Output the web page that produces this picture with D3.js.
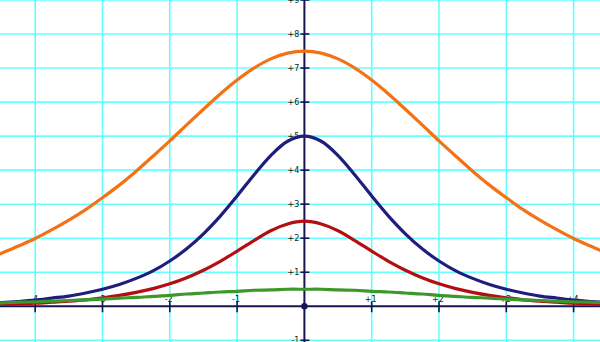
<!DOCTYPE html>
<html><head><meta charset="utf-8">
<script src="https://cdn.jsdelivr.net/npm/d3@7"></script>
<style>body{margin:0;background:#fff}svg{display:block}</style>
</head><body>
<script>
const xValues = [-4.75,-4.5,-4.25,-4,-3.75,-3.5,-3.25,-3,-2.75,-2.5,-2.25,-2,-1.75,-1.5,-1.25,-1,-0.75,-0.5,-0.25,0,0.25,0.5,0.75,1,1.25,1.5,1.75,2,2.25,2.5,2.75,3,3.25,3.5,3.75,4,4.25,4.5,4.75];
const orangeValues = [1.38,1.56,1.77,1.99,2.25,2.53,2.84,3.19,3.56,3.97,4.41,4.86,5.33,5.79,6.24,6.65,7.00,7.27,7.44,7.50,7.44,7.27,7.00,6.65,6.24,5.79,5.33,4.86,4.41,3.97,3.56,3.19,2.84,2.53,2.25,1.99,1.77,1.56,1.38];
const navyValues = [0.09,0.11,0.14,0.18,0.24,0.30,0.39,0.50,0.64,0.82,1.04,1.33,1.69,2.13,2.65,3.24,3.86,4.43,4.85,5.00,4.85,4.43,3.86,3.24,2.65,2.13,1.69,1.33,1.04,0.82,0.64,0.50,0.39,0.30,0.24,0.18,0.14,0.11,0.09];
const redValues = [0.04,0.06,0.07,0.09,0.12,0.15,0.19,0.25,0.32,0.41,0.52,0.66,0.84,1.06,1.32,1.62,1.93,2.22,2.42,2.50,2.42,2.22,1.93,1.62,1.32,1.06,0.84,0.66,0.52,0.41,0.32,0.25,0.19,0.15,0.12,0.09,0.07,0.06,0.04];
const greenValues = [0.09,0.10,0.12,0.13,0.15,0.17,0.19,0.21,0.24,0.26,0.29,0.32,0.36,0.39,0.42,0.44,0.47,0.48,0.50,0.50,0.50,0.48,0.47,0.44,0.42,0.39,0.36,0.32,0.29,0.26,0.24,0.21,0.19,0.17,0.15,0.13,0.12,0.10,0.09];
const xTicks = [-4,-3,-2,-1,1,2,3,4];
const yTicks = [-1,1,2,3,4,5,6,7,8,9];
const xTickLabels = ["-4","-3","-2","-1","+1","+2","+3","+4"];
const yTickLabels = ["-1","+1","+2","+3","+4","+5","+6","+7","+8","+9"];
const xGrid = [-4,-3,-2,-1,1,2,3,4];
const yGrid = [-1,1,2,3,4,5,6,7,8,9];

const W = 600, H = 342;
const x = d3.scaleLinear().domain([-4, 4]).range([35.2, 573.6]);
const y = d3.scaleLinear().domain([-1, 9]).range([340.3, 0]);

const svg = d3.select("body").append("svg").attr("width", W).attr("height", H);
svg.append("defs").append("clipPath").attr("id","clip").append("rect").attr("width",W).attr("height",H);

const grid = svg.append("g").attr("stroke", "#66ffff").attr("stroke-width", 1.6);
grid.selectAll("line.v").data(xGrid).join("line").attr("class","v")
  .attr("x1", d => x(d)).attr("x2", d => x(d)).attr("y1", 0).attr("y2", H);
grid.selectAll("line.h").data(yGrid).join("line").attr("class","h")
  .attr("y1", d => y(d)).attr("y2", d => y(d)).attr("x1", 0).attr("x2", W);

const axisColor = "#15154f";
// x axis
svg.append("line").attr("x1",0).attr("x2",W).attr("y1",y(0)).attr("y2",y(0))
  .attr("stroke",axisColor).attr("stroke-width",2);
svg.append("line").attr("y1",0).attr("y2",H).attr("x1",x(0)).attr("x2",x(0))
  .attr("stroke",axisColor).attr("stroke-width",2);
svg.append("g").selectAll("line").data(xTicks).join("line")
  .attr("x1", d => x(d)).attr("x2", d => x(d)).attr("y1", y(0) - 5).attr("y2", y(0) + 6)
  .attr("stroke", axisColor).attr("stroke-width", 1.6);
svg.append("g").selectAll("line").data(yTicks).join("line")
  .attr("y1", d => y(d)).attr("y2", d => y(d)).attr("x1", x(0) - 4).attr("x2", x(0) + 5)
  .attr("stroke", axisColor).attr("stroke-width", 1.6);

svg.append("g").selectAll("text").data(xTicks).join("text")
  .attr("x", d => x(d) - 1).attr("y", y(0) - 4)
  .attr("text-anchor","middle").attr("font-family","DejaVu Sans, sans-serif")
  .attr("font-size", 8).attr("fill", "#222")
  .text((d,i) => xTickLabels[i]);
svg.append("g").selectAll("text").data(yTicks).join("text")
  .attr("x", x(0) - 5).attr("y", d => y(d) + 3)
  .attr("text-anchor","end").attr("font-family","DejaVu Sans, sans-serif")
  .attr("font-size", 8).attr("fill", "#222")
  .text((d,i) => yTickLabels[i]);

const line = vals => d3.line().curve(d3.curveCatmullRom)
  .x((d,i) => x(xValues[i])).y(d => y(d))(vals);

const series = [
  {vals: orangeValues, color: "#f47216"},
  {vals: redValues, color: "#b40e12"},
  {vals: navyValues, color: "#1e1e7c"},
  {vals: greenValues, color: "#3d982c"}
];
svg.append("g").attr("clip-path","url(#clip)").selectAll("path").data(series).join("path")
  .attr("d", d => line(d.vals)).attr("fill","none")
  .attr("stroke", d => d.color).attr("stroke-width", 3.2);

svg.append("circle").attr("cx", x(0)).attr("cy", y(0)).attr("r", 3.2).attr("fill", axisColor);
</script>
</body></html>
